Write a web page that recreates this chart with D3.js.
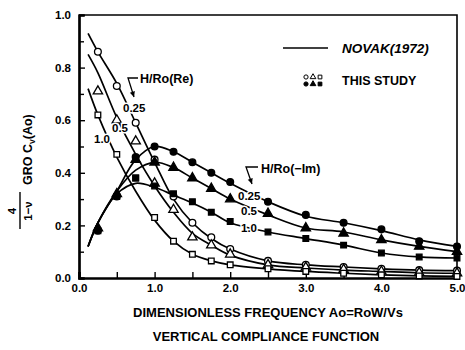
<!DOCTYPE html>
<html lang="en">
<head>
  <meta charset="UTF-8">
  <title>Vertical compliance function</title>
  <script src="https://cdn.jsdelivr.net/npm/d3@7"></script>
  <style>
    body { margin: 0; background: #fff; }
    text { font-family: "Liberation Sans", Arial, sans-serif; font-weight: bold; fill: #000; }
  </style>
</head>
<body>
<script>
  // frequency grid for Novak's curves
  const a0 = [0.12, 0.25, 0.5, 0.75, 1.0, 1.25, 1.5, 1.75, 2.0, 2.5, 3.0, 3.5, 4.0, 4.5, 5.0];
  // real parts (H/Ro = 0.25, 0.5, 1.0)
  const re025 = [0.93, 0.86, 0.74, 0.59, 0.44, 0.30, 0.21, 0.15, 0.11, 0.065, 0.05, 0.042, 0.035, 0.03, 0.028];
  const re05  = [0.85, 0.78, 0.61, 0.47, 0.35, 0.25, 0.17, 0.125, 0.087, 0.05, 0.038, 0.03, 0.025, 0.02, 0.018];
  const re10  = [0.72, 0.62, 0.46, 0.33, 0.22, 0.14, 0.09, 0.065, 0.05, 0.035, 0.025, 0.018, 0.012, 0.008, 0.006];
  // negative imaginary parts
  const im025 = [0.12, 0.21, 0.33, 0.45, 0.50, 0.48, 0.44, 0.40, 0.36, 0.29, 0.235, 0.21, 0.18, 0.145, 0.12];
  const im05  = [0.12, 0.21, 0.33, 0.41, 0.44, 0.42, 0.38, 0.34, 0.30, 0.24, 0.19, 0.175, 0.145, 0.12, 0.10];
  const im10  = [0.12, 0.21, 0.32, 0.36, 0.345, 0.315, 0.285, 0.25, 0.21, 0.175, 0.15, 0.125, 0.095, 0.08, 0.076];

  // this study (test points)
  const studyA0 = [0.25, 0.5, 0.75, 1.0, 1.25, 1.5, 1.75, 2.0, 2.5, 3.0, 3.5, 4.0, 4.5, 5.0];
  const reStudy025 = [0.86, 0.73, 0.59, 0.45, 0.31, 0.21, 0.155, 0.11, 0.065, 0.05, 0.042, 0.035, 0.03, 0.028];
  const reStudy05  = [0.71, 0.60, 0.52, 0.36, 0.26, 0.155, 0.125, 0.09, 0.05, 0.04, 0.032, 0.025, 0.02, 0.018];
  const reStudy10  = [0.62, 0.47, 0.38, 0.23, 0.14, 0.09, 0.065, 0.05, 0.035, 0.025, 0.018, 0.012, 0.008, 0.006];
  const imStudy025 = [0.18, 0.31, 0.46, 0.50, 0.48, 0.44, 0.40, 0.365, 0.29, 0.24, 0.21, 0.185, 0.14, 0.12];
  const imStudy05  = [0.19, 0.32, 0.45, 0.44, 0.42, 0.38, 0.34, 0.30, 0.245, 0.19, 0.17, 0.145, 0.12, 0.10];
  const imStudy10  = [0.18, 0.31, 0.38, 0.35, 0.32, 0.29, 0.25, 0.215, 0.175, 0.15, 0.125, 0.095, 0.08, 0.076];

  const hLabels = ["0.25", "0.5", "1.0"];
  const xTicks = [0, 1, 2, 3, 4, 5];
  const yTicks = [0, 0.2, 0.4, 0.6, 0.8, 1.0];

  const W = 465, H = 350;
  const svg = d3.select("body").append("svg").attr("width", W).attr("height", H);

  const x = d3.scaleLinear().domain([0, 5]).range([79, 457]);
  const y = d3.scaleLinear().domain([0, 1]).range([278, 15]);

  // frame top/right
  svg.append("path")
    .attr("d", `M${x(0)},${y(1)}H${x(5)}V${y(0)}`)
    .attr("fill", "none").attr("stroke", "#000").attr("stroke-width", 1.6);

  // y axis
  svg.append("g").attr("transform", `translate(${x(0)},0)`)
    .call(d3.axisLeft(y).tickValues(yTicks).tickSize(-6).tickPadding(8).tickFormat(d3.format(".1f")));
  svg.append("g").attr("transform", `translate(${x(0)},0)`)
    .call(d3.axisLeft(y).tickValues(d3.range(0.1, 1, 0.2)).tickSize(-5).tickFormat(""));
  // x axis
  svg.append("g").attr("transform", `translate(0,${y(0)})`)
    .call(d3.axisBottom(x).tickValues(xTicks).tickSize(-6).tickPadding(6).tickFormat(d3.format(".1f")));
  svg.append("g").attr("transform", `translate(0,${y(0)})`)
    .call(d3.axisBottom(x).tickValues([0.5, 1.5, 2.5, 3.5, 4.5]).tickSize(-6).tickFormat(""));
  svg.selectAll(".domain").attr("stroke-width", 2.2);
  svg.selectAll(".tick line").attr("stroke-width", 1.4);
  svg.selectAll(".tick text").style("font-size", "11.5px").style("font-family", "Liberation Sans, Arial").style("font-weight", "bold");

  // curves
  const line = d3.line().x(d => x(d[0])).y(d => y(d[1])).curve(d3.curveCatmullRom.alpha(0.5));
  const curves = [re025, re05, re10, im025, im05, im10];
  curves.forEach(vals => {
    svg.append("path")
      .datum(a0.map((a, i) => [a, vals[i]]))
      .attr("d", line)
      .attr("fill", "none").attr("stroke", "#000").attr("stroke-width", 1.7);
  });

  // markers
  const shapes = [d3.symbolCircle, d3.symbolTriangle, d3.symbolSquare];
  const sizes = [36, 38, 32];
  const study = [
    [reStudy025, 0, false], [reStudy05, 1, false], [reStudy10, 2, false],
    [imStudy025, 0, true], [imStudy05, 1, true], [imStudy10, 2, true]
  ];
  study.forEach(([vals, s, filled]) => {
    svg.append("g").selectAll("path")
      .data(studyA0.map((a, i) => [a, vals[i]]))
      .join("path")
      .attr("transform", d => `translate(${x(d[0])},${y(d[1])})`)
      .attr("d", d3.symbol().type(shapes[s]).size(sizes[s]))
      .attr("fill", filled ? "#000" : "#fff")
      .attr("stroke", "#000").attr("stroke-width", 1.3);
  });

  // curve labels (white halo breaks the line)
  function lab(txt, px, py, size) {
    return svg.append("text").attr("x", px).attr("y", py).text(txt)
      .style("font-size", (size || 11.5) + "px")
      .attr("stroke", "#fff").attr("stroke-width", 3).attr("paint-order", "stroke");
  }
  const reLab = [[123, 112], [112, 132], [94, 143]];
  const imLab = [[238, 200], [241, 215], [241, 232]];
  hLabels.forEach((t, i) => {
    lab(t, reLab[i][0], reLab[i][1]);
    lab(t, imLab[i][0], imLab[i][1]);
  });

  // group labels with leaders
  function leader(x0, y0, x1, y1, x2, y2) {
    svg.append("path").attr("d", `M${x0},${y0}L${x1},${y1}L${x2},${y2}`)
      .attr("fill", "none").attr("stroke", "#000").attr("stroke-width", 1.3);
    const ang = Math.atan2(y2 - y1, x2 - x1);
    const l = 6, w = 0.45;
    svg.append("path")
      .attr("d", `M${x2},${y2}L${x2 - l * Math.cos(ang - w)},${y2 - l * Math.sin(ang - w)}L${x2 - l * Math.cos(ang + w)},${y2 - l * Math.sin(ang + w)}Z`)
      .attr("fill", "#000");
  }
  lab("H/Ro(Re)", 140, 83, 12.5);
  leader(138, 78, 128, 78, 134, 97);
  lab("H/Ro(\u2212Im)", 261, 173, 12.5);
  leader(258, 167, 246, 167, 252, 184);

  // legend
  svg.append("line").attr("x1", 283).attr("x2", 328).attr("y1", 48).attr("y2", 48)
    .attr("stroke", "#000").attr("stroke-width", 1.5);
  svg.append("text").attr("x", 342).attr("y", 53).text("NOVAK(1972)")
    .style("font-size", "13.5px").style("font-style", "italic");
  svg.append("text").attr("x", 342).attr("y", 85).text("THIS STUDY").style("font-size", "12.5px");
  [0, 1, 2].forEach(s => {
    [false, true].forEach((filled, r) => {
      svg.append("path")
        .attr("transform", `translate(${306 + s * 7},${77 + r * 7})`)
        .attr("d", d3.symbol().type(shapes[s]).size(14))
        .attr("fill", filled ? "#000" : "#fff")
        .attr("stroke", "#000").attr("stroke-width", 1);
    });
  });

  // axis titles
  svg.append("text").attr("x", 268).attr("y", 317).attr("text-anchor", "middle")
    .style("font-size", "13px").text("DIMENSIONLESS FREQUENCY Ao=RoW/Vs");
  svg.append("text").attr("x", 266).attr("y", 341).attr("text-anchor", "middle")
    .style("font-size", "13px").text("VERTICAL COMPLIANCE FUNCTION");

  const yt = svg.append("g").attr("transform", "translate(27,168) rotate(-90)");
  yt.append("text").attr("x", -43).attr("y", -11).attr("text-anchor", "middle")
    .style("font-size", "11.5px").text("4");
  yt.append("line").attr("x1", -61).attr("x2", -24).attr("y1", -7).attr("y2", -7)
    .attr("stroke", "#000").attr("stroke-width", 1.4);
  yt.append("text").attr("x", -43).attr("y", 5).attr("text-anchor", "middle")
    .style("font-size", "11.5px").text("1\u2212\u03bd");
  const tt = yt.append("text").attr("x", -17).attr("y", 5).style("font-size", "12.5px");
  tt.append("tspan").text("GRO C");
  tt.append("tspan").attr("dy", 3).style("font-size", "8.5px").text("v");
  tt.append("tspan").attr("dy", -3).text("(Ao)");
</script>
</body>
</html>
